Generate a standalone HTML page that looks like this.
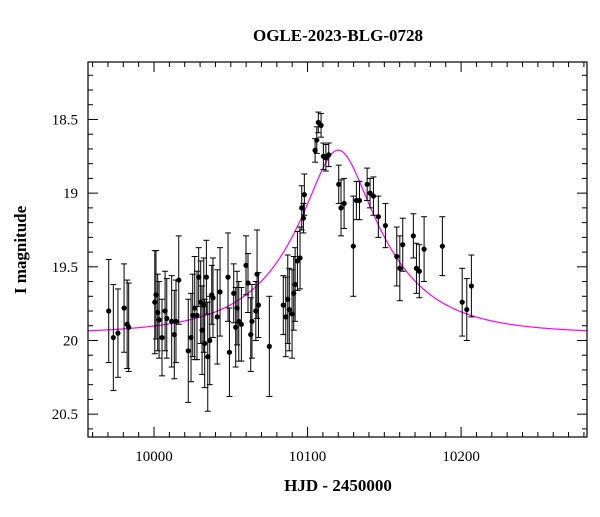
<!DOCTYPE html>
<html><head><meta charset="utf-8"><style>
body{margin:0;background:#fff}
svg text{font-family:"Liberation Serif",serif;fill:#000}
</style></head><body>
<svg id="chart" width="600" height="512" viewBox="0 0 600 512" xmlns="http://www.w3.org/2000/svg">
<text x="338" y="41" font-size="17" font-weight="bold" text-anchor="middle">OGLE-2023-BLG-0728</text>
<text x="338" y="491" font-size="17" font-weight="bold" text-anchor="middle">HJD - 2450000</text>
<text x="26" y="250" font-size="17" font-weight="bold" text-anchor="middle" transform="rotate(-90 26 250)">I magnitude</text>
<g id="axes"></g>
<g id="model"></g>
<g id="points"></g>
<rect x="88" y="62" width="499" height="375" fill="none" stroke="#000" stroke-width="1.2"/>
</svg>
<script>
const times=[9970.5,9973.5,9976.5,9980.5,9982.5,9983.5,10000.5,10001.3,10002.4,10003.3,10005.2,10007.2,10008.3,10011.5,10013.2,10014.3,10016.1,10022.3,10024.1,10025.2,10026.5,10028,10029.1,10030.4,10031.3,10032.4,10033,10034.1,10035,10036.3,10037.6,10038.4,10041.2,10043,10048.2,10049.1,10051.9,10053.2,10054.1,10055.2,10056.9,10059.9,10061.2,10063,10063.8,10066.3,10067.1,10068,10075.1,10084.2,10085.8,10087.1,10088.1,10089.9,10091,10091.9,10093.4,10095.1,10096.2,10097.3,10097.9,10104.9,10106,10107,10108.8,10110.3,10111.9,10113.8,10120.3,10121.8,10123.8,10129.8,10131.8,10133.8,10138.8,10140.7,10142.9,10146.1,10150.7,10158.1,10160.1,10162,10168.9,10170.9,10172.8,10175.9,10187.8,10200.7,10203.7,10206.7];
const mags=[19.80,19.98,19.95,19.78,19.89,19.91,19.74,19.69,19.81,19.86,19.98,19.80,19.85,19.87,19.96,19.87,19.59,20.07,19.98,19.83,19.78,19.83,19.57,19.74,19.93,19.76,20.02,19.57,20.11,20.00,19.69,19.71,19.84,19.67,19.57,20.08,19.68,19.91,19.78,19.87,19.89,19.49,19.61,19.96,19.87,19.80,19.55,19.76,20.04,19.76,19.84,19.72,19.79,19.82,19.68,19.62,19.46,19.44,19.10,19.17,19.01,18.71,18.64,18.52,18.54,18.75,18.76,18.74,18.94,19.10,19.07,19.36,19.05,19.05,18.94,19.00,19.02,19.16,19.22,19.43,19.51,19.35,19.29,19.51,19.53,19.38,19.36,19.74,19.79,19.63];
const errs=[0.35,0.36,0.30,0.30,0.30,0.30,0.35,0.30,0.26,0.26,0.26,0.27,0.27,0.31,0.30,0.28,0.30,0.35,0.30,0.28,0.35,0.30,0.20,0.28,0.30,0.32,0.30,0.25,0.37,0.30,0.20,0.27,0.32,0.30,0.30,0.30,0.20,0.27,0.25,0.27,0.25,0.20,0.20,0.25,0.25,0.20,0.30,0.22,0.34,0.20,0.27,0.30,0.28,0.30,0.25,0.25,0.20,0.21,0.15,0.10,0.14,0.08,0.09,0.07,0.08,0.09,0.09,0.08,0.13,0.19,0.17,0.34,0.13,0.13,0.11,0.10,0.13,0.14,0.15,0.20,0.22,0.18,0.15,0.17,0.18,0.22,0.20,0.23,0.21,0.21];
const xTicks=[10000,10100,10200];
const yTicks=[18.5,19,19.5,20,20.5];
const yTickLabels=["18.5","19","19.5","20","20.5"];
const t0=10120,u0=0.33,tE=57,mBase=19.955;
const X0=88,X1=587,Y0=62,Y1=437,tMin=9957,tMax=10282,mMin=18.11,mMax=20.655;
const xs=t=>X0+(t-tMin)/(tMax-tMin)*(X1-X0);
const ys=m=>Y0+(m-mMin)/(mMax-mMin)*(Y1-Y0);
const NS="http://www.w3.org/2000/svg";
function mk(tag,attrs,parent){const e=document.createElementNS(NS,tag);for(const k in attrs)e.setAttribute(k,attrs[k]);parent.appendChild(e);return e;}
const axes=document.getElementById('axes');
for(let t=9960;t<=10280;t+=10){
  const major=xTicks.includes(t);const L=major?10:5;const x=xs(t);
  const l1=mk('line',{x1:x,x2:x,y1:Y1,y2:Y1-L,stroke:'#000','stroke-width':1},axes);
  
  
  const l2=mk('line',{x1:x,x2:x,y1:Y0,y2:Y0+L,stroke:'#000','stroke-width':1},axes);
  
  
}
xTicks.forEach(t=>{const tx=mk('text',{x:xs(t),y:461,'font-size':15,'text-anchor':'middle'},axes);tx.textContent=String(t);
  
  });
for(let i=12;i<=26;i++){
  const m=i/10*1;const mm=Math.round(i*10)/100*10/10;const val=i/10+17;
}
for(let k=182;k<=206;k++){
  const m=k/10;const major=(k%5===0);const L=major?10:5;const y=ys(m);
  const l1=mk('line',{x1:X0,x2:X0+L,y1:y,y2:y,stroke:'#000','stroke-width':1},axes);
  
  
  const l2=mk('line',{x1:X1,x2:X1-L,y1:y,y2:y,stroke:'#000','stroke-width':1},axes);
  
  
}
yTicks.forEach((m,i)=>{const tx=mk('text',{x:78,y:ys(m)+5,'font-size':15,'text-anchor':'end'},axes);tx.textContent=yTickLabels[i];
  
  });
// model
let d='';
for(let px=X0;px<=X1;px+=1){
  const t=tMin+(px-X0)/(X1-X0)*(tMax-tMin);
  const u=Math.sqrt(u0*u0+Math.pow((t-t0)/tE,2));
  const A=(u*u+2)/(u*Math.sqrt(u*u+4));
  const m=mBase-2.5*Math.log10(A);
  d+=(d?'L':'M')+px.toFixed(1)+' '+ys(m).toFixed(2);
}
const path=mk('path',{d:d,fill:'none',stroke:'#ff00ff','stroke-width':1.2},document.getElementById('model'));


const pg=document.getElementById('points');
times.forEach((t,i)=>{
  const x=xs(t),y=ys(mags[i]),ya=ys(mags[i]-errs[i]),yb=ys(mags[i]+errs[i]);
  const g=mk('g',{},pg);
  
  
  mk('line',{x1:x,x2:x,y1:ya,y2:yb,stroke:'#000','stroke-width':1},g);
  mk('line',{x1:x-3,x2:x+3,y1:ya,y2:ya,stroke:'#000','stroke-width':1},g);
  mk('line',{x1:x-3,x2:x+3,y1:yb,y2:yb,stroke:'#000','stroke-width':1},g);
  mk('circle',{cx:x,cy:y,r:2.6,fill:'#000'},g);
});
</script>
</body></html>
